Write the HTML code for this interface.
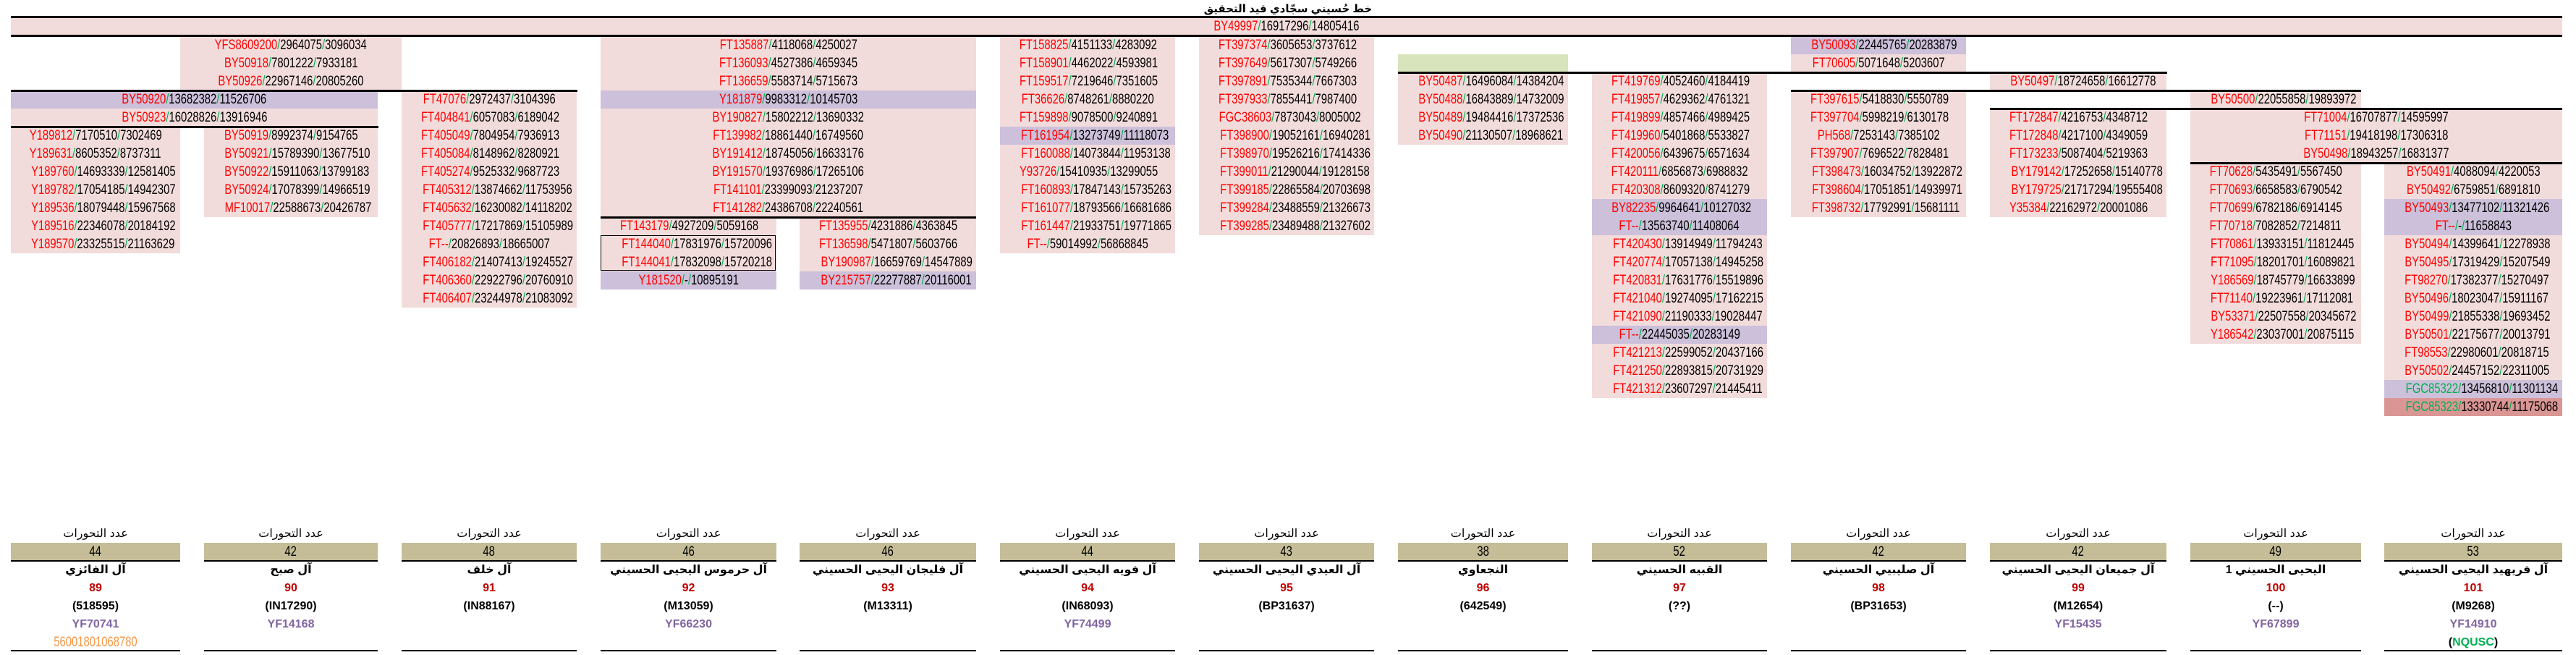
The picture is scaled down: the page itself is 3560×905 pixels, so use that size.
<!DOCTYPE html>
<html lang="ar">
<head>
<meta charset="utf-8">
<title>خط حسيني سجادي قيد التحقيق</title>
<style>
  html,body{margin:0;padding:0;background:#fff;}
  body{width:3560px;height:905px;position:relative;overflow:hidden;
       font-family:"Liberation Sans","DejaVu Sans",sans-serif;}
  .cell{position:absolute;height:25px;line-height:25px;text-align:center;font-size:19px;white-space:nowrap;color:#000;overflow:visible;}
  .cell .sq{display:inline-block;transform:scaleX(0.78);transform-origin:center;}
  .ln{position:absolute;background:#000;}
  .nm{color:#ff0000;}
  .sl{color:#00b050;}
  .gn{color:#00b050;}
  .bt{position:absolute;text-align:center;white-space:nowrap;height:25px;line-height:25px;}
</style>
</head>
<body>
<div class="bt" style="left:1580px;width:400px;top:0;font-size:15px;font-weight:bold;">خط حُسيني سجّادي قيد التحقيق</div>

<script>
// ---- column layout ----
var colLeft  = [15,282,555,830,1105,1382,1657,1932,2200,2475,2750,3027,3295];
var colRight = [249,522,797,1073,1349,1624,1899,2167,2442,2717,2994,3263,3541];
var ROW0 = 50, RH = 25;
var BG = {n:'#f2dcdb', p:'#ccc0da', g:'#d7e4bc', d:'#da9694'};

// ---- snp blocks: [firstCol, lastCol, firstRow, items] ----
var blocks = [
  [0,0,5,["Y189812/7170510/7302469","Y189631/8605352/8737311","Y189760/14693339/12581405","Y189782/17054185/14942307","Y189536/18079448/15967568","Y189516/22346078/20184192","Y189570/23325515/21163629"]],
  [0,1,3,[["BY50920/13682382/11526706","p"],"BY50923/16028826/13916946"]],
  [1,1,5,["BY50919/8992374/9154765","BY50921/15789390/13677510","BY50922/15911063/13799183","BY50924/17078399/14966519","MF10017/22588673/20426787"]],
  [2,2,3,["FT47076/2972437/3104396","FT404841/6057083/6189042","FT405049/7804954/7936913","FT405084/8148962/8280921","FT405274/9525332/9687723","FT405312/13874662/11753956","FT405632/16230082/14118202","FT405777/17217869/15105989","FT--/20826893/18665007","FT406182/21407413/19245527","FT406360/22922796/20760910","FT406407/23244978/21083092"]],
  [3,4,0,["FT135887/4118068/4250027","FT136093/4527386/4659345","FT136659/5583714/5715673",["Y181879/9983312/10145703","p"],"BY190827/15802212/13690332","FT139982/18861440/16749560","BY191412/18745056/16633176","BY191570/19376986/17265106","FT141101/23399093/21237207","FT141282/24386708/22240561"]],
  [3,3,10,["FT143179/4927209/5059168","FT144040/17831976/15720096","FT144041/17832098/15720218",["Y181520/-/10895191","p"]]],
  [4,4,10,["FT135955/4231886/4363845","FT136598/5471807/5603766","BY190987/16659769/14547889",["BY215757/22277887/20116001","p"]]],
  [5,5,0,["FT158825/4151133/4283092","FT158901/4462022/4593981","FT159517/7219646/7351605","FT36626/8748261/8880220","FT159898/9078500/9240891",["FT161954/13273749/11118073","p"],"FT160088/14073844/11953138","Y93726/15410935/13299055","FT160893/17847143/15735263","FT161077/18793566/16681686","FT161447/21933751/19771865","FT--/59014992/56868845"]],
  [6,6,0,["FT397374/3605653/3737612","FT397649/5617307/5749266","FT397891/7535344/7667303","FT397933/7855441/7987400","FGC38603/7873043/8005002","FT398900/19052161/16940281","FT398970/19526216/17414336","FT399011/21290044/19128158","FT399185/22865584/20703698","FT399284/23488559/21326673","FT399285/23489488/21327602"]],
  [7,7,1,[["","g"],"BY50487/16496084/14384204","BY50488/16843889/14732009","BY50489/19484416/17372536","BY50490/21130507/18968621"]],
  [8,8,2,["FT419769/4052460/4184419","FT419857/4629362/4761321","FT419899/4857466/4989425","FT419960/5401868/5533827","FT420056/6439675/6571634","FT420111/6856873/6988832","FT420308/8609320/8741279",["BY82235/9964641/10127032","p"],["FT--/13563740/11408064","p"],"FT420430/13914949/11794243","FT420774/17057138/14945258","FT420831/17631776/15519896","FT421040/19274095/17162215","FT421090/21190333/19028447",["FT--/22445035/20283149","p"],"FT421213/22599052/20437166","FT421250/22893815/20731929","FT421312/23607297/21445411"]],
  [9,9,0,[["BY50093/22445765/20283879","p"],"FT70605/5071648/5203607"]],
  [9,9,3,["FT397615/5418830/5550789","FT397704/5998219/6130178","PH568/7253143/7385102","FT397907/7696522/7828481","FT398473/16034752/13922872","FT398604/17051851/14939971","FT398732/17792991/15681111"]],
  [10,10,2,["BY50497/18724658/16612778"]],
  [10,10,4,["FT172847/4216753/4348712","FT172848/4217100/4349059","FT173233/5087404/5219363","BY179142/17252658/15140778","BY179725/21717294/19555408","Y35384/22162972/20001086"]],
  [11,11,3,["BY50500/22055858/19893972"]],
  [11,12,4,["FT71004/16707877/14595997","FT71151/19418198/17306318","BY50498/18943257/16831377"]],
  [11,11,7,["FT70628/5435491/5567450","FT70693/6658583/6790542","FT70699/6782186/6914145","FT70718/7082852/7214811","FT70861/13933151/11812445","FT71095/18201701/16089821","Y186569/18745779/16633899","FT71140/19223961/17112081","BY53371/22507558/20345672","Y186542/23037001/20875115"]],
  [12,12,7,["BY50491/4088094/4220053","BY50492/6759851/6891810",["BY50493/13477102/11321426","p"],["FT--/-/11658843","p"],"BY50494/14399641/12278938","BY50495/17319429/15207549","FT98270/17382377/15270497","BY50496/18023047/15911167","BY50499/21855338/19693452","BY50501/22175677/20013791","FT98553/22980601/20818715","BY50502/24457152/22311005",["FGC85322/13456810/11301134","p"],["FGC85323/13330744/11175068","d"]]]
];
// wide block above column 2 (spans gap)
var wideItems = ["YFS8609200/2964075/3096034","BY50918/7801222/7933181","BY50926/22967146/20805260"];

// ---- bottom summary ----
var mutCounts = [44,42,48,46,46,44,43,38,52,42,42,49,53];
var familyNames = ["آل الفائزي","آل صبح","آل خلف","آل حرموس اليحيى الحسيني","آل فليجان اليحيى الحسيني","آل فويه اليحيى الحسيني","آل العيدي اليحيى الحسيني","النجعاوي","القبيه الحسيني","آل صليبيي الحسيني","آل جميعان اليحيى الحسيني","اليحيى الحسيني 1","آل فريهيد اليحيى الحسيني"];
var familyNums = [89,90,91,92,93,94,95,96,97,98,99,100,101];
var kitCodes = ["(518595)","(IN17290)","(IN88167)","(M13059)","(M13311)","(IN68093)","(BP31637)","(642549)","(??)","(BP31653)","(M12654)","(--)","(M9268)"];
var yfCodes = ["YF70741","YF14168","","YF66230","","YF74499","","","","","YF15435","YF67899","YF14910"];

function fmt(t){
  if(!t) return '';
  var parts = t.split('/');
  var nmCls = parts[0].indexOf('FGC853')===0 ? 'gn' : 'nm';
  var h = '<span class="'+nmCls+'">'+parts[0]+'</span>';
  for(var i=1;i<parts.length;i++){ h += '<span class="sl">/</span>' + parts[i]; }
  return '<span class="sq">'+h+'</span>';
}
function addCell(x1,x2,row,item){
  var txt = (typeof item==='string')?item:item[0];
  var bg = (typeof item==='string')?'n':item[1];
  var d = document.createElement('div');
  d.className='cell';
  d.style.left=x1+'px'; d.style.width=(x2-x1)+'px';
  d.style.top=(ROW0+row*RH)+'px';
  d.style.background=BG[bg];
  d.innerHTML=fmt(txt);
  
  
  document.body.appendChild(d);
}
function addLine(x1,x2,y,h){
  var l=document.createElement('div');
  l.className='ln';
  l.style.left=x1+'px'; l.style.width=(x2-x1)+'px';
  l.style.top=(y-h/2)+'px'; l.style.height=h+'px';
  
  
  document.body.appendChild(l);
}

// top root band
(function(){
  var b=document.createElement('div');
  b.className='cell';
  b.style.left='15px'; b.style.width='3526px'; b.style.top='24px'; b.style.background=BG.n;
  b.innerHTML=fmt("BY49997/16917296/14805416");
  
  
  document.body.appendChild(b);
})();

wideItems.forEach(function(it,i){ addCell(249,555,i,it); });
blocks.forEach(function(bk){
  bk[3].forEach(function(it,i){ addCell(colLeft[bk[0]],colRight[bk[1]],bk[2]+i,it); });
});

// branch lines
addLine(15,3541,23.5,3);
addLine(15,3541,49,3);
addLine(15,798,ROW0+3*RH,3);
addLine(15,523,ROW0+5*RH,3);
addLine(830,1349,ROW0+10*RH,3);
addLine(1932,2995,ROW0+2*RH,3);
addLine(2475,3263,ROW0+3*RH,3);
addLine(2750,3541,ROW0+4*RH,3);
addLine(3027,3541,ROW0+7*RH,3);

// box around FT144040/FT144041
(function(){
  var bx=document.createElement('div');
  bx.style.position='absolute';
  bx.style.left='830px'; bx.style.top=(ROW0+11*RH)+'px';
  bx.style.width='242px'; bx.style.height=(2*RH-1)+'px';
  bx.style.border='1px solid #000'; bx.style.boxSizing='border-box';
  
  
  document.body.appendChild(bx);
})();

// bottom summary panels
function addText(c,row,html,style,name){
  var t=document.createElement('div');
  t.className='bt';
  t.style.left=colLeft[c]+'px'; t.style.width=(colRight[c]-colLeft[c])+'px';
  t.style.top=(ROW0+row*RH)+'px';
  t.style.cssText += style;
  t.innerHTML=html;
  
  
  document.body.appendChild(t);
  return t;
}
for(var c=0;c<13;c++){
  addText(c,27,'عدد التحورات','font-size:16px;','mutation-count-label');
  addText(c,28,'<span style="display:inline-block;transform:scaleX(0.78)">'+mutCounts[c]+'</span>','font-size:19px;background:#c4bd97;','mutation-count');
  addText(c,29,familyNames[c],'font-size:16px;font-weight:bold;','family-name');
  addText(c,30,String(familyNums[c]),'font-size:16px;font-weight:bold;color:#c00000;','family-number');
  addText(c,31,kitCodes[c],'font-size:16px;font-weight:bold;','kit-code');
  if(yfCodes[c]) addText(c,32,yfCodes[c],'font-size:16px;font-weight:bold;color:#8064a2;','yf-code');
  addLine(colLeft[c],colRight[c],ROW0+29*RH,2);
  addLine(colLeft[c],colRight[c],ROW0+34*RH-1,2);
}
addText(0,33,'<span style="display:inline-block;transform:scaleX(0.78)">56001801068780</span>','font-size:19px;color:#f79646;','extra-id');
addText(12,33,'(<span style="color:#00b050">NQUSC</span>)','font-size:16px;font-weight:bold;','extra-code');
</script>
</body>
</html>
